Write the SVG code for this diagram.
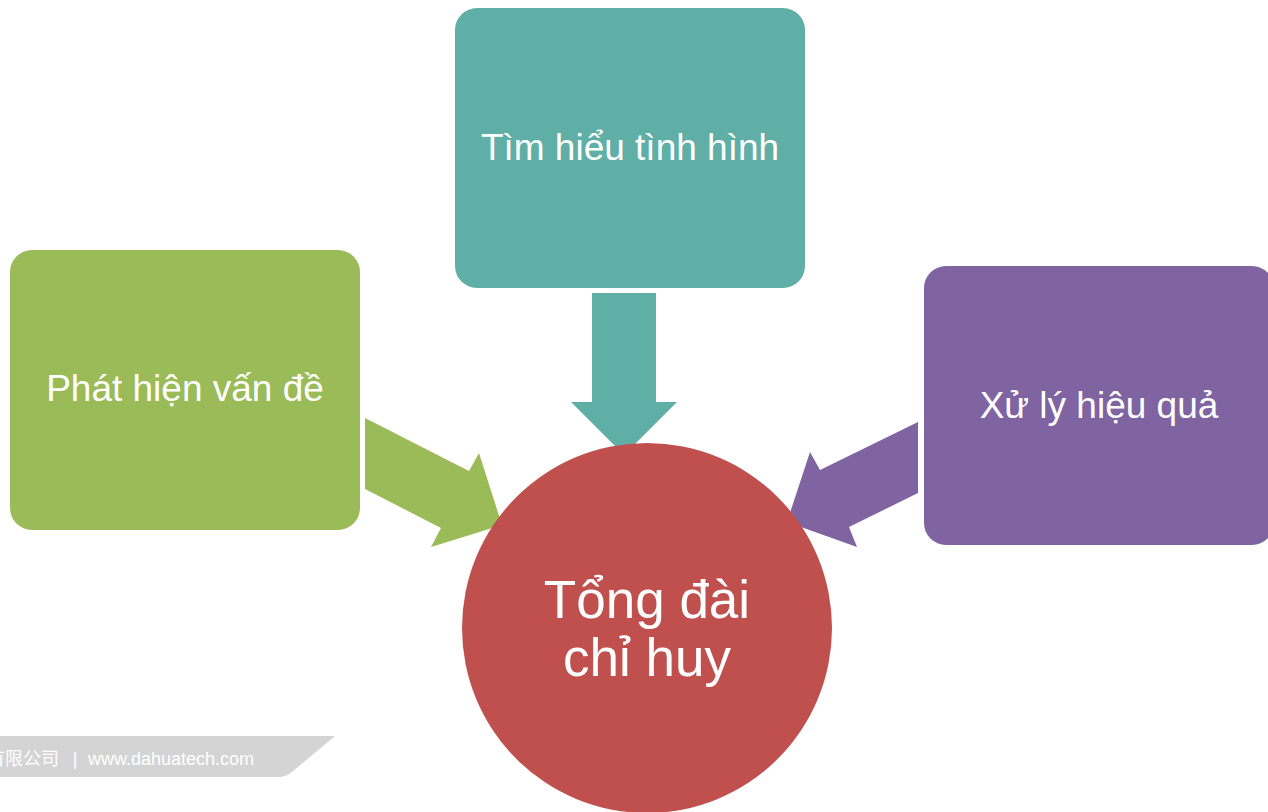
<svg xmlns="http://www.w3.org/2000/svg" width="1268" height="812" viewBox="0 0 1268 812">
<style>
.lbl{font-family:"Liberation Sans",Arial,"Noto Sans CJK SC",sans-serif;fill:#fff;text-anchor:middle}
.box{font-size:37px}
.big{font-size:53px}
.foot{font-family:"Liberation Sans",Arial,"Noto Sans CJK SC",sans-serif;fill:#fff;font-size:18px}
</style>
<rect width="1268" height="812" fill="#fff"/>
<g id="footer">
<path d="M0 736 H335 L292 772 Q286 777 278 777 H0 Z" fill="#d4d4d4"/>
<text class="foot" x="59" y="765" text-anchor="end">有限公司</text>
<text class="foot" x="75" y="765" text-anchor="middle">|</text>
<text class="foot" x="88" y="765">www.dahuatech.com</text>
</g>
<g id="connectors">
<polygon points="592,293 656,293 656,402 677,402 624,455 571,402 592,402" fill="#60AFA6"/>
<polygon points="365,418 469,471 479,453 502,525 431,547 441,528 365,489" fill="#9BBB59"/>
<polygon points="918,422 820,470 810,452 787,522 857,547 849,527 918,493" fill="#8064A2"/>
</g>
<g id="center">
<circle cx="647" cy="628" r="185" fill="#C0504D"/>
<text class="lbl big" x="647" y="618">Tổng đài</text>
<text class="lbl big" x="647" y="676">chỉ huy</text>
</g>
<g id="top">
<rect x="455" y="8" width="350" height="280" rx="22" fill="#60AFA6"/>
<text class="lbl box" x="630" y="160">Tìm hiểu tình hình</text>
</g>
<g id="left">
<rect x="10" y="250" width="350" height="280" rx="22" fill="#9BBB59"/>
<text class="lbl box" x="185" y="401">Phát hiện vấn đề</text>
</g>
<g id="right">
<rect x="924" y="266" width="350" height="279" rx="22" fill="#8064A2"/>
<text class="lbl box" x="1099" y="418">Xử lý hiệu quả</text>
</g>
</svg>
